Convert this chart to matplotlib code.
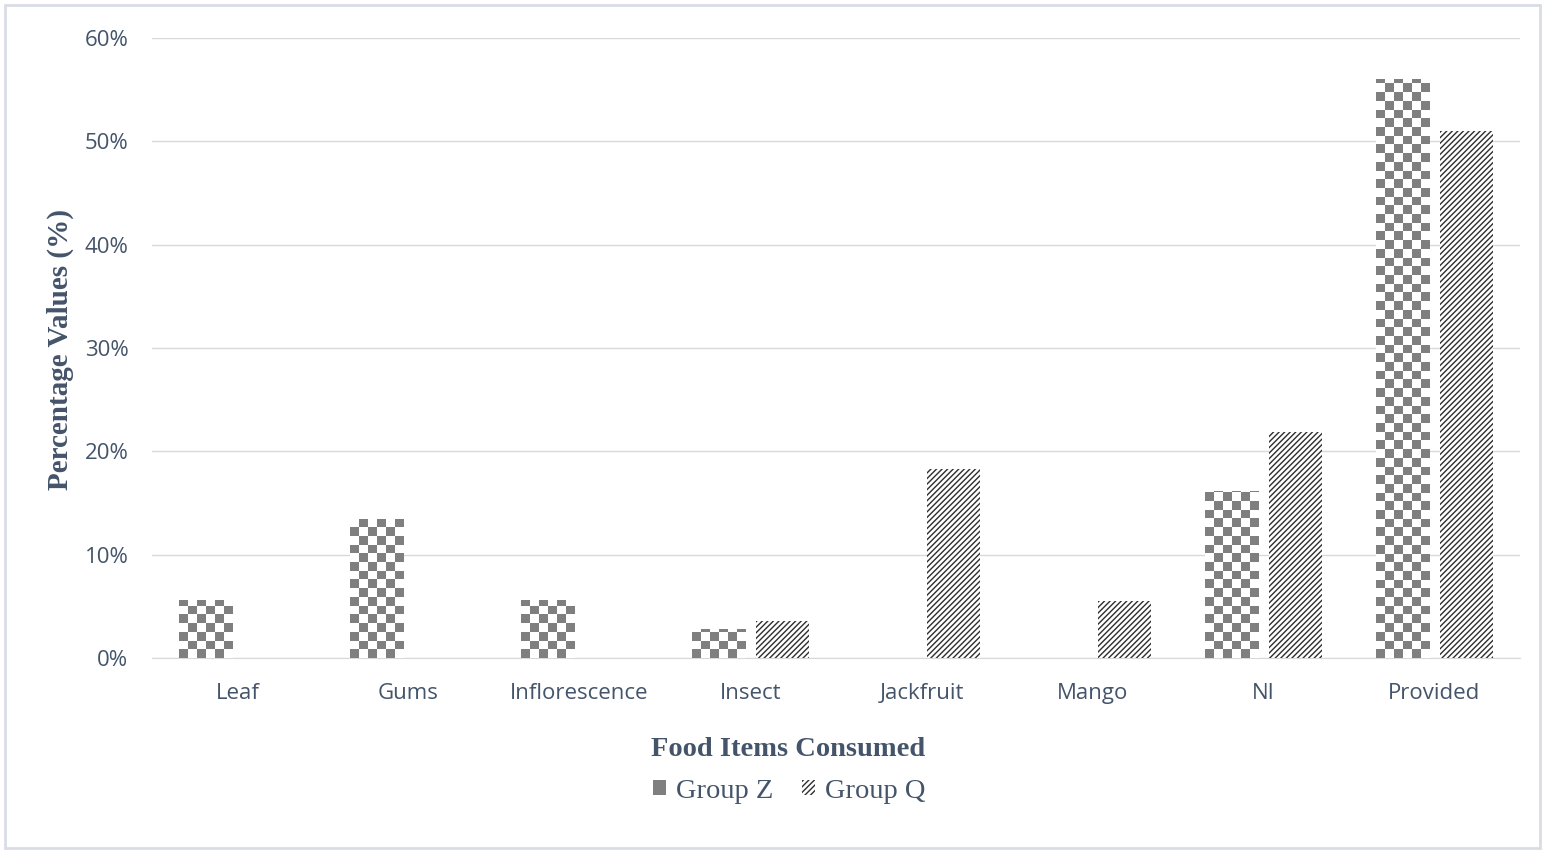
import numpy as np
import matplotlib.pyplot as plt
from matplotlib.colors import ListedColormap
from matplotlib.patches import Patch, Rectangle
from matplotlib.ticker import PercentFormatter

# Data
categories = ['Leaf', 'Gums', 'Inflorescence', 'Insect', 'Jackfruit', 'Mango', 'NI', 'Provided']
group_z = [5.6, 13.5, 5.6, 2.8, 0, 0, 16.2, 56.0]
group_q = [0, 0, 0, 3.6, 18.3, 5.5, 21.9, 51.0]

text_col = '#44546a'
grid_col = '#d9d9d9'

plt.rcParams['hatch.linewidth'] = 1.0

fig = plt.figure(figsize=(15.46, 8.5), dpi=100)
ax = fig.add_axes([152 / 1546, 1 - 658 / 850, 1368 / 1546, 620 / 850])

x = np.arange(len(categories))
w = 0.31
off = 0.19

# Group Z: checkerboard fill clipped to each bar
checker = ListedColormap(['#7f7f7f', 'white'])
bars_z = ax.bar(x - off, group_z, w, facecolor='none', edgecolor='none', zorder=3)
px_per_x = 1368 / 8
px_per_y = 620 / 60
sq = 8.7
for b in bars_z:
    h = b.get_height()
    if h <= 0:
        continue
    ncol = max(1, int(round(b.get_width() * px_per_x / sq)))
    nrow = int(np.ceil(h * px_per_y / sq))
    img = np.indices((nrow, ncol)).sum(axis=0) % 2
    im = ax.imshow(img, cmap=checker, vmin=0, vmax=1, interpolation='nearest',
                   extent=(b.get_x(), b.get_x() + b.get_width(), 0, nrow * sq / px_per_y),
                   aspect='auto', origin='lower', zorder=3)
    im.set_clip_path(b)

# Group Q: dense diagonal hatch
bars_q = ax.bar(x + off, group_q, w, facecolor='white', edgecolor='#2e2e2e',
                linewidth=0, hatch='//////', zorder=3)

ax.set_xlim(-0.5, len(categories) - 0.5)
ax.set_ylim(0, 60)
ax.set_yticks(np.arange(0, 61, 10))
ax.yaxis.set_major_formatter(PercentFormatter(decimals=0))
ax.set_xticks(x)
ax.set_xticklabels(categories)

ax.grid(axis='y', color=grid_col, linewidth=1)
ax.set_axisbelow(True)
for s in ['top', 'right', 'left']:
    ax.spines[s].set_visible(False)
ax.spines['bottom'].set_color(grid_col)
ax.tick_params(axis='both', length=0, labelsize=16, labelcolor=text_col)
ax.tick_params(axis='x', pad=18)
ax.tick_params(axis='y', pad=17)
for lbl in ax.get_xticklabels() + ax.get_yticklabels():
    lbl.set_family('Open Sans')

fig.text(60 / 1546, 1 - 349 / 850, 'Percentage Values (%)', family='Liberation Serif',
         fontweight='bold', fontsize=21, color=text_col, rotation=90, ha='center', va='center')
fig.text(788 / 1546, 1 - 750 / 850, 'Food Items Consumed', family='Liberation Serif',
         fontweight='bold', fontsize=20.5, color=text_col, ha='center', va='center')

handles = [Patch(facecolor='#7f7f7f', edgecolor='none', label='Group Z'),
           Patch(facecolor='white', edgecolor='#2e2e2e', linewidth=0, hatch='//////', label='Group Q')]
fig.legend(handles=handles, loc='center', bbox_to_anchor=(789 / 1546, 1 - 791 / 850), ncol=2,
           frameon=False, prop={'family': 'Liberation Serif', 'size': 20.5},
           labelcolor=text_col, handlelength=0.45, handleheight=0.45, handletextpad=0.35,
           columnspacing=1.0)

fig.add_artist(Rectangle((5 / 1546, 2 / 850), 1535 / 1546, 843 / 850, transform=fig.transFigure,
                         fill=False, edgecolor='#d9dde3', linewidth=2))

fig.savefig('out.png', dpi=100)
